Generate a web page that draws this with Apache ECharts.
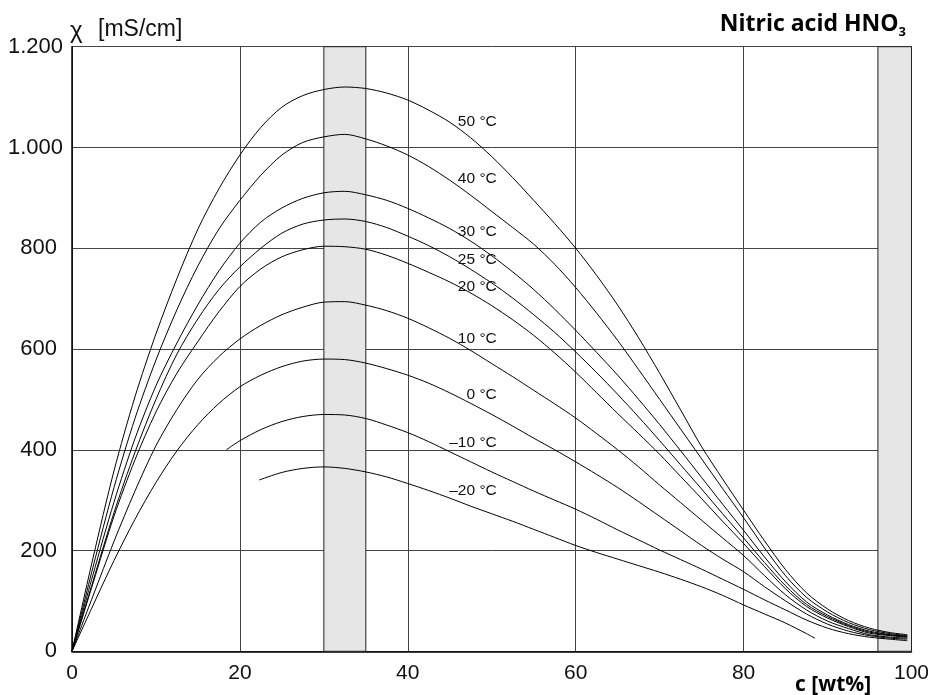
<!DOCTYPE html>
<html><head><meta charset="utf-8">
<script src="https://cdn.jsdelivr.net/npm/echarts/dist/echarts.min.js"></script>
<style>html,body{margin:0;padding:0;background:#fff}#main{width:928px;height:695px}</style>
</head><body><div id="main"></div>
<script>
// concentration c [wt%] (shared x values for the 50 °C ... 0 °C curves)
const concentration = [0, 2.5, 5, 7.5, 10, 12.5, 15, 17.5, 20, 22.5, 25, 27.5, 30, 32.5, 35, 37.5, 40, 42.5, 45, 47.5, 50, 52.5, 55, 57.5, 60, 62.5, 65, 67.5, 70, 72.5, 75, 77.5, 80, 82.5, 85, 87.5, 90, 92.5, 95, 97.5, 99.5];
// conductivity χ [mS/cm]
const t50 = [0, 185, 358, 505, 630, 740, 838, 918, 985, 1040, 1080, 1103, 1115, 1120, 1117, 1108, 1094, 1074, 1050, 1019, 982, 940, 895, 849, 800, 746, 687, 622, 552, 479, 406, 342, 280, 219, 162, 116, 84, 61, 46, 37, 33];
const t40 = [0, 167, 325, 462, 578, 678, 765, 838, 895, 945, 985, 1010, 1021, 1026, 1017, 1003, 985, 962, 935, 905, 873, 841, 808, 768, 722, 671, 617, 559, 500, 441, 382, 323, 265, 205, 150, 107, 78, 57, 43, 35, 31];
const t30 = [0, 152, 296, 422, 527, 612, 688, 755, 810, 852, 880, 899, 910, 913, 906, 895, 879, 860, 839, 814, 785, 753, 718, 679, 637, 593, 548, 500, 450, 398, 345, 292, 240, 187, 138, 98, 72, 53, 40, 33, 30];
const t25 = [0, 139, 275, 395, 500, 590, 660, 718, 763, 800, 830, 848, 856, 858, 853, 841, 824, 805, 783, 758, 731, 701, 668, 633, 594, 553, 510, 465, 418, 370, 322, 273, 225, 176, 130, 93, 69, 51, 38, 32, 29];
const t20 = [0, 135, 268, 380, 475, 552, 615, 674, 724, 759, 783, 797, 804, 803, 798, 786, 770, 752, 733, 711, 686, 658, 627, 592, 554, 513, 472, 432, 391, 347, 303, 258, 214, 168, 124, 89, 66, 49, 36, 31, 28];
const t10 = [0, 110, 218, 318, 408, 480, 540, 585, 620, 647, 668, 683, 693, 694, 687, 676, 661, 642, 621, 597, 571, 545, 518, 491, 463, 432, 400, 366, 330, 295, 260, 225, 190, 150, 112, 82, 60, 45, 33, 28, 26];
const t0  = [0, 91, 180, 262, 335, 398, 450, 492, 525, 548, 565, 576, 580, 579, 572, 561, 548, 532, 513, 492, 470, 447, 423, 400, 376, 351, 325, 297, 268, 239, 210, 183, 158, 128, 100, 74, 54, 40, 31, 26, 24];
// −10 °C and −20 °C start at higher concentrations
const concM10 = [18.4, 20, 22.5, 25, 27.5, 30, 32.5, 35, 37.5, 40, 42.5, 45, 47.5, 50, 52.5, 55, 57.5, 60, 62.5, 65, 67.5, 70, 72.5, 75, 77.5, 80, 82.5, 85, 87.5, 90, 92.5, 95, 97.5, 99.5];
const tM10    = [400, 418, 440, 456, 466, 470, 469, 462, 449, 434, 416, 396, 376, 356, 337, 318, 300, 282, 262, 241, 221, 201, 182, 163, 143, 123, 102, 82, 62, 46, 35, 28, 24, 21];
const concM20 = [22.3, 25, 27.5, 30, 32.5, 35, 37.5, 40, 42.5, 45, 47.5, 50, 52.5, 55, 57.5, 60, 62.5, 65, 67.5, 70, 72.5, 75, 77.5, 80, 82.5, 85, 87.5, 88.5];
const tM20    = [340, 355, 363, 366, 363, 356, 346, 333, 319, 304, 288, 273, 258, 242, 226, 210, 196, 183, 170, 157, 143, 128, 111, 92, 74, 56, 35, 26];
// curve names
const curveNames = ['50 °C', '40 °C', '30 °C', '25 °C', '20 °C', '10 °C', '0 °C', '–10 °C', '–20 °C'];
// shaded concentration ranges
const bands = [[30, 35], [96, 100]];
// axis ticks
const xTicks = [0, 20, 40, 60, 80, 100];
const yTicks = [0, 200, 400, 600, 800, 1000, 1200];

const curveX = [concentration, concentration, concentration, concentration, concentration, concentration, concentration, concM10, concM20];
const curveY = [t50, t40, t30, t25, t20, t10, t0, tM10, tM20];
// label anchor (right end of text) in data coordinates – layout only
const labelAnchor = [[50.6, 1051], [50.6, 937], [50.6, 833], [50.6, 778], [50.6, 724], [50.6, 620], [50.6, 510], [50.6, 413], [50.6, 318]];

const FONT = '"Liberation Sans", Arial, sans-serif';
const series = curveNames.map((name, i) => ({
  name, type: 'line', smooth: 0.3, showSymbol: false, silent: true,
  data: curveX[i].map((x, k) => [x, curveY[i][k]]),
  lineStyle: { color: '#000', width: 1 },
  markPoint: {
    symbol: 'circle', symbolSize: 0, silent: true,
    label: { show: true, position: 'left', distance: 0, formatter: name, fontFamily: FONT, fontSize: 15.5, color: '#111' },
    data: [{ coord: labelAnchor[i] }]
  }
}));
series.unshift({
  name: 'bands', type: 'line', z: -1, silent: true, showSymbol: false,
  data: [[0, 0]], lineStyle: { opacity: 0 },
  markArea: {
    silent: true,
    itemStyle: { color: '#e6e6e6', borderColor: '#222', borderWidth: 1 },
    data: bands.map(b => [{ xAxis: b[0] }, { xAxis: b[1] }])
  }
});

const chart = echarts.init(document.getElementById('main'));
chart.setOption({
  animation: false,
  backgroundColor: '#fff',
  grid: { left: 72, right: 16.5, top: 46.7, bottom: 43.7, containLabel: false, outerBoundsMode: 'none' },
  xAxis: {
    type: 'value', min: xTicks[0], max: xTicks[xTicks.length - 1], interval: 20,
    axisLine: { show: true, lineStyle: { color: '#000', width: 1.5 } },
    axisTick: { show: false },
    splitLine: { show: true, lineStyle: { color: '#444', width: 1 } },
    axisLabel: { fontFamily: FONT, fontSize: 21, color: '#111', margin: 11 }
  },
  yAxis: {
    type: 'value', min: yTicks[0], max: yTicks[yTicks.length - 1], interval: 200,
    axisLine: { show: true, lineStyle: { color: '#000', width: 1.5 } },
    axisTick: { show: false },
    splitLine: { show: true, lineStyle: { color: '#444', width: 1 } },
    axisLabel: {
      fontFamily: FONT, fontSize: 22, color: '#111', margin: 9,
      formatter: v => v >= 1000 ? (v / 1000).toFixed(3) : '{s|' + v + '}',
      rich: { s: { fontFamily: FONT, fontSize: 22, color: '#111', padding: [0, 6, 0, 0] } }
    }
  },
  title: {
    text: '{a|Nitric acid HNO}{b|3}', right: 17, top: 4,
    textStyle: { rich: {
      a: { fontFamily: '"Open Sans", sans-serif', fontWeight: 'bold', fontSize: 23, color: '#000', lineHeight: 30 },
      b: { fontFamily: '"Open Sans", sans-serif', fontWeight: 'bold', fontSize: 13, color: '#000', lineHeight: 13, verticalAlign: 'bottom' }
    } }
  },
  graphic: [
    { type: 'text', left: 70, top: 19, style: { text: 'χ', fontFamily: FONT, fontSize: 24, fill: '#111' } },
    { type: 'text', left: 98, top: 18, style: { text: '[mS/cm]', fontFamily: FONT, fontSize: 23, fill: '#111' } },
    { type: 'text', left: 795, top: 675, style: { text: 'c [wt%]', fontFamily: '"Open Sans", sans-serif', fontWeight: 'bold', fontSize: 21, fill: '#000' } }
  ],
  series
});
</script></body></html>
